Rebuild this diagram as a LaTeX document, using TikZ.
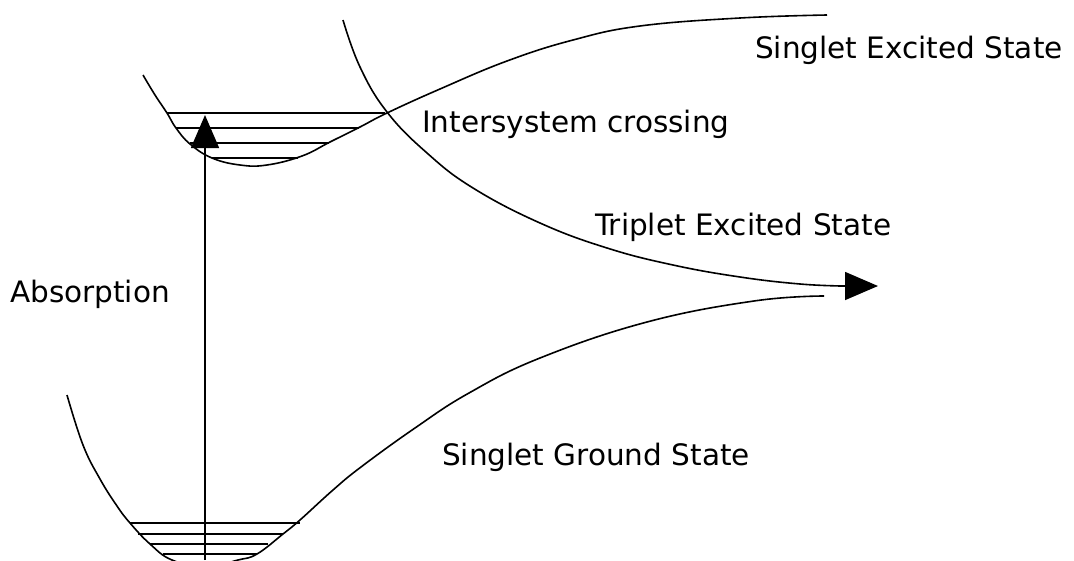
\documentclass[tikz,border=0pt]{standalone}
\usepackage{fontspec}
\setmainfont{DejaVu Sans}
\usetikzlibrary{arrows.meta}
\tikzset{
  curve/.style={line width=1.6pt, smooth, tension=0.7},
  level/.style={line width=1.6pt},
  lbl/.style={anchor=base west, inner sep=0pt, font=\fontsize{29.5}{34}\selectfont},
  bigarrow/.style={line width=1.6pt, -{Triangle[length=33pt,width=28pt]}},
}
\begin{document}
\begin{tikzpicture}[x=1pt,y=-1pt]
\useasboundingbox (0,0) rectangle (1074,560);
\begin{scope}
\clip (0,0) rectangle (1074,560);
% ground state well
\draw[curve] plot coordinates {(67,395) (83,445) (100,479) (117,506) (130,523) (150,544) (172,560) (205,567) (238,560) (257,554) (283,534) (300,520) (333,490) (361,467) (415,428) (469,393) (540,358) (647,322) (754,301) (824,296)};
% ground vibrational levels
\draw[level] (130,523) -- (300,523);
\draw[level] (138,534) -- (283,534);
\draw[level] (150,544) -- (268,544);
\draw[level] (163,554) -- (257,554);
% singlet excited well
\draw[curve] plot coordinates {(143,75) (155,95) (167,113) (176,128) (190,144) (212,158) (240,165) (267,165) (302,156) (330,142) (360,127) (387,113) (440,89) (507,61) (573,40) (640,26) (740,18) (827,15)};
% excited vibrational levels
\draw[level] (167,113) -- (385,113);
\draw[level] (176,128) -- (359,128);
\draw[level] (190,143) -- (329,143);
\draw[level] (212,158) -- (298,158);
% triplet curve
\draw[curve] plot coordinates {(343,20) (360,67) (387,112) (427,153) (473,188) (540,223) (607,248) (673,265) (740,277) (800,284) (843,286)};
\end{scope}
\coordinate (gb) at (205,560);
\coordinate (et) at (205,115);
\coordinate (t1) at (838,286);
\coordinate (t2) at (878,286);
\draw[bigarrow] (gb) -- (et);
\draw[bigarrow] (t1) -- (t2);
% labels
\node[lbl] (ses) at (755,58) {Singlet Excited State};
\node[lbl] (isc) at (422,132) {Intersystem crossing};
\node[lbl] (tes) at (595,235) {Triplet Excited State};
\node[lbl] (abs) at (10,302) {Absorption};
\node[lbl] (sgs) at (442,465) {Singlet Ground State};
\end{tikzpicture}
\end{document}
